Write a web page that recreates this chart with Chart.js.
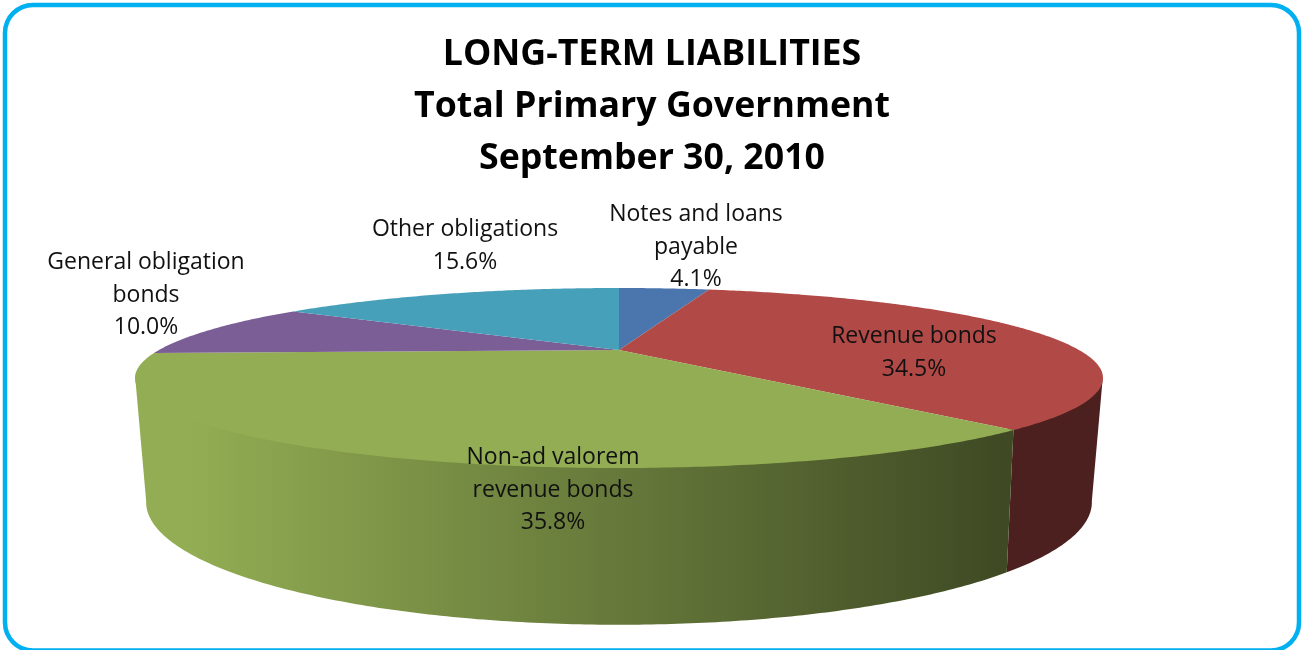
<!DOCTYPE html>
<html>
<head>
<meta charset="utf-8">
<title>Long-term liabilities</title>
<script src="https://cdn.jsdelivr.net/npm/chart.js@4"></script>
<style>
html, body { margin: 0; padding: 0; background: #fff; overflow: hidden; }
canvas { display: block; }
</style>
</head>
<body>
<canvas id="myChart" width="1304" height="650"></canvas>
<script>
const titleLines = ['LONG-TERM LIABILITIES', 'Total Primary Government', 'September 30, 2010']
const categories = ['Notes and loans\npayable', 'Revenue bonds', 'Non-ad valorem\nrevenue bonds', 'General obligation\nbonds', 'Other obligations']
const shares = [4.1, 34.5, 35.8, 10.0, 15.6]
const sliceColors = ['#4a76ad', '#b14a47', '#92ad53', '#7b5e96', '#46a0b9']

// where each label's first line sits, same order as categories
const labelSpots = [[696, 214.5], [914, 336.5], [553, 457.5], [146, 262.5], [465, 229.5]]

// the tilted disc: top and bottom rim, seen in perspective
const topRim = { cx: 619, cy: 350, a: 460, b: 81.3, k: 0.311 }
const bottomRim = { cx: 619, cy: 463, a: 448, b: 110, k: 0.32 }

// the wall is only seen between these two angles, the rest is behind the top face
const wallStart = Math.PI - Math.acos(topRim.k)
const wallEnd = Math.PI + Math.acos(topRim.k)

function project(rim, theta) {
    const u = Math.sin(theta)
    const v = -Math.cos(theta)
    const w = 1 - rim.k * v
    return [rim.cx + rim.a * u / w, rim.cy + rim.b * v / w]
}

function rimPoints(rim, from, to) {
    const points = []
    const steps = Math.max(2, Math.ceil((to - from) / 0.01))
    for (let i = 0; i <= steps; i++) {
        points.push(project(rim, from + (to - from) * i / steps))
    }
    return points
}

function hexToRgb(hex) {
    return [1, 3, 5].map(i => parseInt(hex.slice(i, i + 2), 16))
}

function sideGradient(ctx, color) {
    const rgb = hexToRgb(color)
    const gradient = ctx.createLinearGradient(190, 0, 1000, 0)
    gradient.addColorStop(0, `rgb(${rgb.join(',')})`)
    gradient.addColorStop(1, `rgb(${rgb.map(c => Math.round(c * 0.43)).join(',')})`)
    return gradient
}

function tracePolygon(ctx, points) {
    ctx.beginPath()
    points.forEach((p, i) => i == 0 ? ctx.moveTo(p[0], p[1]) : ctx.lineTo(p[0], p[1]))
    ctx.closePath()
}

const framePlugin = {
    id: 'frame',
    beforeDraw(chart) {
        const ctx = chart.ctx
        ctx.save()
        ctx.fillStyle = '#fff'
        ctx.fillRect(0, 0, chart.width, chart.height)
        ctx.strokeStyle = '#00b0f0'
        ctx.lineWidth = 4.5
        ctx.beginPath()
        ctx.roundRect(5, 5, 1294, 645.5, 28)
        ctx.stroke()
        ctx.restore()
    }
}

const tiltedPiePlugin = {
    id: 'tiltedPie',
    // the library lays the slices out, we only change how they are painted
    beforeDatasetDraw(chart, args) {
        const ctx = chart.ctx
        const arcs = chart.getDatasetMeta(args.index).data
        ctx.save()
        arcs.forEach((arc, i) => {
            const from = Math.max(arc.startAngle + Math.PI / 2, wallStart)
            const to = Math.min(arc.endAngle + Math.PI / 2, wallEnd)
            if (to <= from) {
                return
            }
            // pushed up a little under the top face so no white seam shows
            const upper = rimPoints(topRim, from, to).map(p => [p[0], p[1] - 3])
            tracePolygon(ctx, upper.concat(rimPoints(bottomRim, from, to).reverse()))
            ctx.fillStyle = sideGradient(ctx, sliceColors[i])
            ctx.fill()
        })
        arcs.forEach((arc, i) => {
            const from = arc.startAngle + Math.PI / 2
            const to = arc.endAngle + Math.PI / 2
            tracePolygon(ctx, [[topRim.cx, topRim.cy]].concat(rimPoints(topRim, from, to)))
            ctx.fillStyle = sliceColors[i]
            ctx.fill()
        })
        ctx.restore()
        return false
    },
    afterDraw(chart) {
        const ctx = chart.ctx
        ctx.save()
        ctx.fillStyle = '#111'
        ctx.font = '23px "Open Sans"'
        ctx.textAlign = 'center'
        ctx.textBaseline = 'middle'
        categories.forEach((name, i) => {
            const lines = name.split('\n').concat(shares[i].toFixed(1) + '%')
            lines.forEach((line, n) => {
                ctx.fillText(line, labelSpots[i][0], labelSpots[i][1] + n * 32.5)
            })
        })
        ctx.restore()
    }
}

new Chart(document.getElementById('myChart'), {
    type: 'pie',
    data: {
        labels: categories,
        datasets: [{
            data: shares,
            backgroundColor: sliceColors,
            borderWidth: 0
        }]
    },
    options: {
        responsive: false,
        animation: false,
        plugins: {
            legend: { display: false },
            tooltip: { enabled: false },
            title: {
                display: true,
                text: titleLines,
                color: '#000',
                font: { family: 'Open Sans', size: 35.7, weight: 'bold', lineHeight: '52px' },
                padding: { top: 28.5, bottom: 0 }
            }
        }
    },
    plugins: [framePlugin, tiltedPiePlugin]
})
</script>
</body>
</html>
